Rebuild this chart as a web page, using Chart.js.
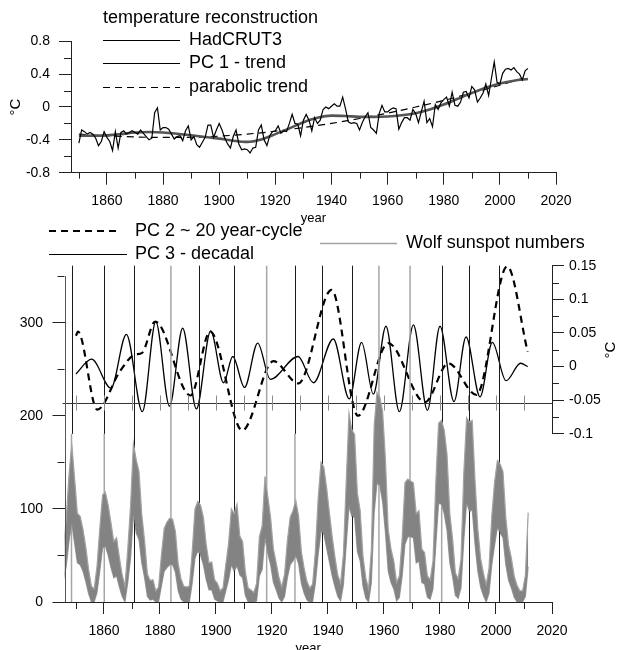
<!DOCTYPE html>
<html>
<head>
<meta charset="utf-8">
<script src="https://cdn.jsdelivr.net/npm/chart.js@4.4.1/dist/chart.umd.min.js"></script>
<style>
  html, body { margin: 0; padding: 0; background: #fff; overflow: hidden; }
  #wrap { position: relative; width: 618px; height: 650px; }
  canvas { position: absolute; left: 0; top: 0; }
</style>
</head>
<body>
<div id="wrap">
  <canvas id="sunChart" width="618" height="656"></canvas>
  <canvas id="tempChart" width="618" height="650"></canvas>
</div>
<script>
// ---- data ----
const hadYears = Array.from({ length: 161 }, (_, i) => 1850 + i);
const hadcrut3 = [
  -0.44,-0.28,-0.30,-0.33,-0.31,-0.33,-0.38,-0.47,-0.42,-0.30,
  -0.37,-0.42,-0.53,-0.30,-0.50,-0.31,-0.29,-0.33,-0.31,-0.29,
  -0.31,-0.33,-0.28,-0.32,-0.36,-0.40,-0.38,-0.07,-0.01,-0.28,
  -0.25,-0.25,-0.27,-0.33,-0.39,-0.36,-0.35,-0.41,-0.29,-0.23,
  -0.40,-0.36,-0.46,-0.49,-0.43,-0.37,-0.22,-0.22,-0.37,-0.28,
  -0.20,-0.28,-0.38,-0.45,-0.50,-0.36,-0.28,-0.45,-0.52,-0.51,
  -0.52,-0.56,-0.50,-0.49,-0.28,-0.22,-0.40,-0.47,-0.35,-0.30,
  -0.29,-0.23,-0.32,-0.29,-0.30,-0.20,-0.09,-0.20,-0.21,-0.35,
  -0.16,-0.09,-0.16,-0.29,-0.13,-0.20,-0.16,-0.03,0.00,-0.02,
  0.01,0.04,0.01,0.01,0.12,-0.02,-0.18,-0.20,-0.19,-0.20,
  -0.28,-0.19,-0.12,-0.07,-0.25,-0.28,-0.32,-0.08,0.02,-0.06,
  -0.06,-0.03,-0.01,-0.02,-0.27,-0.19,-0.13,-0.13,-0.16,-0.03,
  -0.08,-0.19,-0.06,0.07,-0.19,-0.14,-0.24,0.03,-0.03,0.05,
  0.09,0.12,0.01,0.18,0.02,0.01,0.06,0.18,0.19,0.11,
  0.25,0.21,0.06,0.11,0.17,0.28,0.14,0.35,0.55,0.30,
  0.28,0.41,0.46,0.47,0.45,0.48,0.43,0.40,0.33,0.44,
  0.47
];

const pc1Years = [1850,1855,1860,1865,1870,1875,1880,1885,1890,1895,1900,1905,1910,1915,1920,1925,
                  1930,1935,1940,1945,1950,1955,1960,1965,1970,1975,1980,1985,1990,1995,2000,2005,2010];
const pc1Trend = [-0.35,-0.35,-0.345,-0.33,-0.31,-0.305,-0.31,-0.325,-0.345,-0.365,-0.385,-0.41,-0.425,-0.395,-0.33,-0.26,
                  -0.185,-0.13,-0.105,-0.11,-0.12,-0.12,-0.115,-0.10,-0.075,-0.03,0.03,0.10,0.17,0.235,0.285,0.32,0.34];

const paraYears = [1850,1860,1870,1880,1890,1900,1910,1920,1930,1940,1950,1960,1970,1980,1990,2000,2010];
const paraTrend = [-0.33,-0.35,-0.365,-0.37,-0.368,-0.355,-0.33,-0.295,-0.25,-0.20,-0.14,-0.075,0.0,0.08,0.17,0.265,0.37];

// monthly spread of the Wolf numbers, upper and lower edge per year
const sunYears = Array.from({ length: 167 }, (_, i) => 1845 + i);
const sunHigh = [
  60,88,136,170,133,95,92,78,59,35,17,14,38,79,115,118,104,85,65,69,
  48,29,17,57,104,170,153,140,94,66,30,23,24,12,16,50,79,86,90,89,
  76,41,25,17,16,17,54,100,108,104,91,62,42,43,24,20,12,15,40,63,
  100,95,105,71,65,32,15,13,10,20,70,82,135,113,91,57,42,26,16,30,
  66,91,98,109,92,54,36,22,15,19,55,112,150,145,123,96,70,48,29,20,
  51,128,203,185,180,117,98,49,26,14,57,190,225,220,205,154,78,57,44,21,
  28,69,128,132,130,128,95,98,57,53,28,24,44,128,192,195,185,159,95,68,
  31,25,46,138,198,193,195,131,79,47,31,19,36,92,129,152,148,140,91,61,
  47,28,18,12,12,29,96
];
const sunLow = [
  23,38,65,84,63,42,40,33,22,9,0,0,10,33,58,60,50,37,26,28,
  16,6,0,21,47,94,74,67,42,26,6,2,3,0,0,17,33,37,40,40,
  32,12,3,0,0,0,20,47,55,50,40,24,13,13,3,1,0,0,12,24,
  40,33,39,29,26,7,0,0,0,1,28,35,69,52,40,21,13,4,0,6,
  26,40,44,50,41,20,9,2,0,0,20,51,76,73,58,43,28,16,6,1,
  18,61,103,92,91,54,44,17,4,0,21,96,128,125,108,75,33,21,14,1,
  5,28,62,70,70,69,42,44,21,19,5,3,14,61,106,105,95,77,42,27,
  7,4,15,66,107,97,99,62,33,16,7,0,9,40,61,80,74,69,40,23,
  15,5,0,0,0,6,38
];

const pc2Years  = [1850.0,1850.7,1857.6,1865.7,1871.1,1873.5,1878.3,1890.9,1897.9,1909.4,1920.5,1929.4,
                   1941.3,1950.7,1961.5,1974.6,1983.0,1993.0,2004.0,2011.3];
const pc2Values = [0.046,0.052,-0.064,-0.007,0.018,0.020,0.067,-0.043,0.052,-0.095,0.008,-0.025,
                   0.114,-0.073,0.035,-0.053,0.005,-0.042,0.149,0.022];

const pc3Years  = [1850.0,1855.6,1862.5,1868.0,1873.7,1878.5,1883.4,1888.1,1893.0,1898.1,1902.7,1906.0,
                   1910.2,1914.9,1919.4,1929.3,1934.8,1941.9,1947.6,1952.0,1956.2,1960.7,1965.5,1970.5,
                   1975.5,1980.0,1985.0,1989.3,1994.3,1998.7,2003.6,2008.8,2011.3];
const pc3Values = [-0.011,0.011,-0.032,0.048,-0.067,0.067,-0.059,0.057,-0.063,0.053,-0.024,0.015,
                   -0.031,0.035,-0.019,0.015,-0.024,0.041,-0.048,0.036,-0.041,0.060,-0.067,0.062,
                   -0.065,0.060,-0.052,0.044,-0.045,0.036,-0.021,0.005,0.0];

const solarMaxYears = [1848.4,1860.1,1870.8,1883.9,1893.8,1906.4,1918.1,1928.2,1937.9,1948.4,
                       1958.2,1969.3,1980.6,1990.5,2001.1];

const tempTicksX  = [1860,1880,1900,1920,1940,1960,1980,2000,2020];
const tempMinorX  = [1850,1870,1890,1910,1930,1950,1970,1990,2010];
const tempTicksY  = [-0.8,-0.4,0,0.4,0.8];
const tempMinorY  = [-0.6,-0.2,0.2,0.6];
const sunTicksY   = [0,100,200,300];
const sunMinorY   = [50,150,250,350];
const pcTicksY    = [-0.1,-0.05,0,0.05,0.1,0.15];
const pcMinorY    = [-0.075,-0.025,0.025,0.075,0.125];
const decadeTicks = [1850,1860,1870,1880,1890,1900,1910,1920,1930,1940,1950,1960,1970,1980,1990,2000,2010];

// ---- styling ----
const FONT = "'Liberation Sans', Arial, sans-serif";
const AXIS = '#222';
const SUN_GRAY = '#838383';
// k = black line, g = gray line, kg = black over the PC panel then gray
const maxLineKinds = ['kg','kg','k','g','k','k','g','kg','k','k','g','g','kg','k','k'];

Chart.defaults.font.family = FONT;
Chart.defaults.font.size = 14;
Chart.defaults.color = '#000';

const pts = (xs, ys) => xs.map((x, i) => ({ x: x, y: ys[i] }));
const setTicks = vals => scale => { scale.ticks = vals.map(v => ({ value: v })); };
const fmt = v => String(Number(v.toFixed(3)));

function seg(ctx, x1, y1, x2, y2) {
  ctx.beginPath();
  ctx.moveTo(x1, y1);
  ctx.lineTo(x2, y2);
  ctx.stroke();
}
const crisp = v => Math.round(v) + 0.5;

// ---- upper panel ----
const tempDecor = {
  id: 'tempDecor',
  afterDraw(chart) {
    const { ctx, chartArea: ca, scales: { x, y } } = chart;
    ctx.save();
    ctx.strokeStyle = AXIS;
    ctx.lineWidth = 1;
    tempMinorX.forEach(v => { const px = crisp(x.getPixelForValue(v)); seg(ctx, px, ca.bottom, px, ca.bottom + 6); });
    tempMinorY.forEach(v => { const py = crisp(y.getPixelForValue(v)); seg(ctx, ca.left - 7, py, ca.left, py); });

    ctx.font = '18px ' + FONT;
    ctx.fillStyle = '#000';
    ctx.textBaseline = 'middle';
    ctx.fillText('temperature reconstruction', 103, 18);
    const rows = [40.5, 63.5, 87.5];
    chart.data.datasets.forEach((ds, i) => {
      ctx.strokeStyle = '#000';
      ctx.lineWidth = 1;
      ctx.setLineDash(ds.borderDash || []);
      seg(ctx, 103, rows[i], 180, rows[i]);
      ctx.setLineDash([]);
      ctx.fillText(ds.label, 189, rows[i]);
    });
    ctx.restore();
  }
};

new Chart(document.getElementById('tempChart'), {
  type: 'line',
  data: {
    datasets: [
      { label: 'HadCRUT3', data: pts(hadYears, hadcrut3), borderColor: '#000', borderWidth: 1.2,
        pointRadius: 0, tension: 0 },
      { label: 'PC 1 - trend', data: pts(pc1Years, pc1Trend), borderColor: '#555', borderWidth: 2.6,
        pointRadius: 0, cubicInterpolationMode: 'monotone' },
      { label: 'parabolic trend', data: pts(paraYears, paraTrend), borderColor: '#000', borderWidth: 1.2,
        borderDash: [7, 5], pointRadius: 0, cubicInterpolationMode: 'monotone' }
    ]
  },
  options: {
    responsive: false,
    animation: false,
    events: [],
    layout: { padding: { top: 41.3, right: 62, bottom: 424, left: 0 } },
    plugins: { legend: { display: false }, tooltip: { enabled: false } },
    scales: {
      x: {
        type: 'linear', min: 1847.2, max: 2020,
        afterBuildTicks: setTicks(tempTicksX),
        afterFit: s => { s.height = 53.3; },
        ticks: { callback: v => String(v), autoSkip: false, maxRotation: 0, padding: 8 },
        grid: { drawOnChartArea: false, tickLength: 12, color: AXIS },
        border: { color: AXIS },
        title: { display: true, text: 'year', font: { size: 13 }, padding: { top: 0, bottom: 0 } }
      },
      y: {
        min: -0.8, max: 0.8,
        afterBuildTicks: setTicks(tempTicksY),
        afterFit: s => { s.width = 71; },
        ticks: { callback: v => fmt(v), padding: 9 },
        grid: { drawOnChartArea: false, tickLength: 12, color: AXIS },
        border: { color: AXIS },
        title: { display: true, text: '°C', font: { size: 15 }, padding: { top: 7, bottom: 0 } }
      }
    }
  },
  plugins: [tempDecor]
});

// ---- lower panel ----
const sunDecor = {
  id: 'sunDecor',
  afterDatasetDraw(chart, args) {
    if (args.index !== 1) return;
    const { ctx, chartArea: ca, scales: { x, yr } } = chart;
    const pcBottom = yr.getPixelForValue(-0.1);
    ctx.save();
    solarMaxYears.forEach((yv, i) => {
      const px = x.getPixelForValue(yv);
      const kind = maxLineKinds[i];
      if (kind === 'g' || kind === 'kg') {
        ctx.strokeStyle = '#a6a6a6'; ctx.lineWidth = 1.5;
        seg(ctx, px, kind === 'g' ? ca.top : pcBottom, px, ca.bottom);
      }
      if (kind === 'k' || kind === 'kg') {
        ctx.strokeStyle = '#1a1a1a'; ctx.lineWidth = 1;
        seg(ctx, crisp(px), ca.top, crisp(px), kind === 'k' ? ca.bottom : pcBottom);
      }
    });
    // baseline of the PC panel with its decade ticks
    const by = crisp(yr.getPixelForValue(-0.0535));
    ctx.strokeStyle = '#333'; ctx.lineWidth = 1;
    seg(ctx, ca.left - 2, by, ca.right, by);
    ctx.strokeStyle = '#8a8a8a';
    decadeTicks.forEach(v => { const px = crisp(x.getPixelForValue(v)); seg(ctx, px, by - 8, px, by + 7); });
    ctx.restore();
  },
  afterDraw(chart) {
    const { ctx, chartArea: ca, scales: { x, ys, yr } } = chart;
    ctx.save();
    ctx.lineWidth = 1;
    // left axis (sunspots) 0 .. 350
    ctx.strokeStyle = '#555';
    const lx = crisp(ca.left);
    seg(ctx, lx, ys.getPixelForValue(0), lx, ys.getPixelForValue(350));
    ctx.strokeStyle = AXIS;
    sunMinorY.forEach(v => { const py = crisp(ys.getPixelForValue(v)); seg(ctx, ca.left - 7, py, ca.left, py); });
    // right axis (°C) -0.1 .. 0.15
    const rx = crisp(ca.right);
    seg(ctx, rx, yr.getPixelForValue(-0.1), rx, yr.getPixelForValue(0.15));
    pcMinorY.forEach(v => { const py = crisp(yr.getPixelForValue(v)); seg(ctx, ca.right, py, ca.right + 7, py); });
    // minor x ticks
    tempMinorX.forEach(v => { const px = crisp(x.getPixelForValue(v)); seg(ctx, px, ca.bottom, px, ca.bottom + 7); });

    // right axis title
    ctx.fillStyle = '#000';
    ctx.font = '15px ' + FONT;
    ctx.textAlign = 'center';
    ctx.textBaseline = 'middle';
    ctx.save();
    ctx.translate(611, 350);
    ctx.rotate(-Math.PI / 2);
    ctx.fillText('°C', 0, 0);
    ctx.restore();

    // legend
    ctx.textAlign = 'left';
    ctx.font = '18px ' + FONT;
    const ds = chart.data.datasets;
    const items = [
      { d: ds[2], x1: 49, x2: 121, tx: 135, y: 231, w: 2 },
      { d: ds[3], x1: 49, x2: 127, tx: 135, y: 254.5, w: 1.2 },
      { d: ds[0], x1: 320, x2: 397, tx: 406, y: 243.5, w: 1.5 }
    ];
    items.forEach(it => {
      ctx.strokeStyle = it.d.borderColor;
      ctx.lineWidth = it.w;
      ctx.setLineDash(it.d.borderDash || []);
      seg(ctx, it.x1, it.y, it.x2, it.y);
      ctx.setLineDash([]);
      ctx.fillText(it.d.label, it.tx, it.y);
    });
    ctx.restore();
  }
};

new Chart(document.getElementById('sunChart'), {
  type: 'line',
  data: {
    datasets: [
      { label: 'Wolf sunspot numbers', data: pts(sunYears.map(v => v + 0.5), sunHigh), yAxisID: 'ys',
        borderColor: '#a3a3a3', backgroundColor: SUN_GRAY, borderWidth: 1.2, fill: '+1',
        pointRadius: 0, tension: 0 },
      { label: '', data: pts(sunYears.map(v => v + 0.5), sunLow), yAxisID: 'ys',
        borderColor: '#a3a3a3', borderWidth: 1.2, fill: false, pointRadius: 0, tension: 0 },
      { label: 'PC 2 ~ 20 year-cycle', data: pts(pc2Years, pc2Values), yAxisID: 'yr',
        borderColor: '#000', borderWidth: 2.2, borderDash: [7, 5], pointRadius: 0,
        cubicInterpolationMode: 'monotone' },
      { label: 'PC 3 - decadal', data: pts(pc3Years, pc3Values), yAxisID: 'yr',
        borderColor: '#000', borderWidth: 1.3, pointRadius: 0, cubicInterpolationMode: 'monotone' }
    ]
  },
  options: {
    responsive: false,
    animation: false,
    events: [],
    layout: { padding: { top: 265.7, right: 0, bottom: 0, left: 0 } },
    plugins: { legend: { display: false }, tooltip: { enabled: false } },
    scales: {
      x: {
        type: 'linear', min: 1845.9, max: 2020,
        afterBuildTicks: setTicks(tempTicksX),
        afterFit: s => { s.height = 54; },
        ticks: { callback: v => String(v), autoSkip: false, maxRotation: 0, padding: 9 },
        grid: { drawOnChartArea: false, tickLength: 12, color: AXIS },
        border: { color: AXIS },
        title: { display: true, text: 'year', font: { size: 13 }, padding: { top: 0, bottom: 0 } }
      },
      ys: {
        position: 'left', min: 0, max: 361.2,
        afterBuildTicks: setTicks(sunTicksY),
        afterFit: s => { s.width = 64.5; },
        ticks: { callback: v => String(v), padding: 9.5 },
        grid: { drawOnChartArea: false, tickLength: 12, color: AXIS },
        border: { display: false }
      },
      yr: {
        position: 'right', min: -0.35, max: 0.15,
        afterBuildTicks: setTicks(pcTicksY),
        afterFit: s => { s.width = 66; },
        ticks: { callback: v => fmt(v), padding: 5 },
        grid: { drawOnChartArea: false, tickLength: 12, color: AXIS },
        border: { display: false }
      }
    }
  },
  plugins: [sunDecor]
});
</script>
</body>
</html>
